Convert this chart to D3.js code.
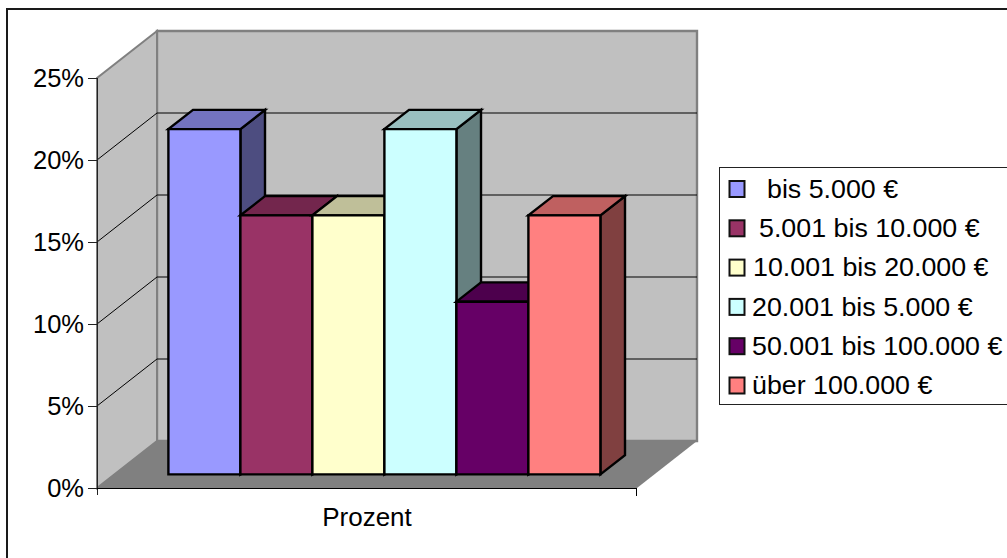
<!DOCTYPE html>
<html><head><meta charset="utf-8">
<script src="https://cdn.jsdelivr.net/npm/d3@7"></script>
<style>html,body{margin:0;padding:0;background:#fff;overflow:hidden}svg{display:block}text{font-family:"Liberation Sans",Arial,sans-serif;fill:#000}</style>
</head><body><svg id="c" width="1007" height="558"></svg>
<script>
const category = "Prozent";
const seriesNames = ["bis 5.000 €", "5.001 bis 10.000 €", "10.001 bis 20.000 €", "20.001 bis 5.000 €", "50.001 bis 100.000 €", "über 100.000 €"];
const seriesValues = [0.2105, 0.1579, 0.1579, 0.2105, 0.1053, 0.1579];
const seriesColors = ["#9999ff", "#993366", "#ffffcc", "#ccffff", "#660066", "#ff8080"];
const sideColors = ["#4d4d80", "#4d1933", "#808066", "#668080", "#330033", "#804040"];
const topColors = ["#7373bf", "#73264d", "#bfbf99", "#99bfbf", "#4d004d", "#bf6060"];
const yTicks = [0, 0.05, 0.10, 0.15, 0.20, 0.25];

const svg = d3.select("#c");
const y = d3.scaleLinear().domain([0, 0.25]).range([488, 78]);
const xCat = d3.scaleBand().domain([category]).range([97, 637]);
const xSer = d3.scaleBand().domain(seriesNames).range([xCat(category) + 54, xCat(category) + xCat.bandwidth() - 54]);
const depth = {dx: 60, dy: -47};
const barZ = [0.29, 0.70];
const P = (x, yy, z) => [x + depth.dx * z, yy + depth.dy * z];
const path = pts => "M" + pts.map(p => p.join(",")).join("L") + "Z";
const [x0, x1] = xCat.range();
const [y0, y1] = [y(0), y(0.25)];

// chart frame: runs off the right and bottom of the picture
svg.append("rect").attr("x", 7).attr("y", 9).attr("width", 1100).attr("height", 700)
  .attr("fill", "#fff").attr("stroke", "#1a1a1a").attr("stroke-width", 2);

// walls
svg.append("path").attr("d", path([P(x0,y0,1),P(x1,y0,1),P(x1,y1,1),P(x0,y1,1)])).attr("fill", "#c0c0c0").attr("stroke", "#808080").attr("stroke-width", 2.4);
svg.append("path").attr("d", path([P(x0,y0,0),P(x0,y0,1),P(x0,y1,1),P(x0,y1,0)])).attr("fill", "#c0c0c0").attr("stroke", "#808080").attr("stroke-width", 2);
// floor
svg.append("path").attr("d", path([P(x0,y0,0),P(x1,y0,0),P(x1,y0,1),P(x0,y0,1)])).attr("fill", "#808080");

// gridlines
const gridTicks = yTicks.filter(t => t > 0 && t < 0.25);
svg.append("g").selectAll("path").data(gridTicks).join("path")
  .attr("d", t => d3.line()([P(x0,y(t),0),P(x0,y(t),1),P(x1,y(t),1)]))
  .attr("fill", "none").attr("stroke", "#000").attr("stroke-width", 1);

// bars
const bars = svg.append("g").selectAll("g").data(seriesNames).join("g")
  .attr("stroke", "#000").attr("stroke-width", 2.4).attr("stroke-linejoin", "miter");
bars.each(function(name, i) {
  const g = d3.select(this);
  const l = xSer(name), r = l + xSer.bandwidth(), t = y(seriesValues[i]), b = y(0);
  const [z0, z1] = barZ;
  g.append("path").attr("fill", sideColors[i]).attr("d", path([P(r,b,z0),P(r,b,z1),P(r,t,z1),P(r,t,z0)]));
  g.append("path").attr("fill", topColors[i]).attr("d", path([P(l,t,z0),P(r,t,z0),P(r,t,z1),P(l,t,z1)]));
  g.append("path").attr("fill", seriesColors[i]).attr("d", path([P(l,b,z0),P(r,b,z0),P(r,t,z0),P(l,t,z0)]));
});

// axes
const yAxis = svg.append("g").attr("transform", `translate(${x0},0)`)
  .call(d3.axisLeft(y).tickValues(yTicks).tickFormat(d3.format(".0%")).tickSize(9).tickPadding(4));
yAxis.select(".domain").attr("stroke", "#222").attr("d", `M0.5,${y1}V${y0+7}`);
yAxis.selectAll(".tick line").attr("x1", 0.5).attr("stroke", "#222");
yAxis.selectAll("text").style("font-size", "25.5px").attr("dy", "0.35em");

const xAxis = svg.append("g");
xAxis.append("line").attr("x1", x0).attr("x2", x1).attr("y1", y0 + 0.5).attr("y2", y0 + 0.5).attr("stroke", "#000");
xAxis.selectAll("line.t").data([x1]).join("line").attr("class", "t")
  .attr("x1", d => d - 0.5).attr("x2", d => d - 0.5).attr("y1", y0).attr("y2", y0 + 8).attr("stroke", "#000");
xAxis.append("text").attr("x", xCat(category) + xCat.bandwidth() / 2).attr("y", 526).attr("text-anchor", "middle").style("font-size", "26px").text(category);

// legend
const lg = svg.append("g");
lg.append("rect").attr("x", 719.5).attr("y", 167.5).attr("width", 300).attr("height", 237).attr("fill", "#fff").attr("stroke", "#222");
const ly = d3.scalePoint().domain(seriesNames).range([189, 385.5]);
const items = lg.selectAll("g").data(seriesNames).join("g").attr("transform", d => `translate(0,${ly(d)})`);
items.append("rect").attr("x", 729.5).attr("y", -8).attr("width", 15).attr("height", 16)
  .attr("fill", (d, i) => seriesColors[i]).attr("stroke", "#111").attr("stroke-width", 2);
const labelX = [767, 759, 753, 752, 752, 752];
items.append("text").attr("transform", (d, i) => `translate(${labelX[i]},0) scale(1.073,1)`)
  .attr("dy", "0.35em").style("font-size", "25px").text(d => d);
</script></body></html>
